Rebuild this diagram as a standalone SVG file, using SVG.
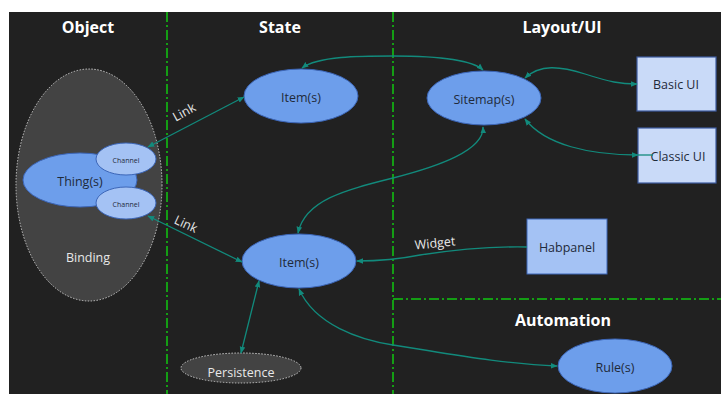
<svg xmlns="http://www.w3.org/2000/svg" width="721" height="394" viewBox="0 0 721 394">
<style>
.hdr{font-family:"Open Sans","Noto Sans","Liberation Sans",sans-serif;font-weight:bold;font-size:16px;fill:#ffffff;text-anchor:middle}
.lbl{font-family:"Open Sans","Noto Sans","Liberation Sans",sans-serif;font-size:12.5px;fill:#1f2a3a;text-anchor:middle;dominant-baseline:central}
.wl{font-family:"Open Sans","Noto Sans","Liberation Sans",sans-serif;font-size:12.5px;fill:#e8e8e8;text-anchor:middle;dominant-baseline:central}
.small{font-family:"Open Sans","Noto Sans","Liberation Sans",sans-serif;font-size:7px;fill:#1f2a3a;text-anchor:middle;dominant-baseline:central}
.div{stroke:#10c810;stroke-width:1.5;stroke-dasharray:10 3 2 3;fill:none}
.blue{fill:#6d9eeb;stroke:#3c66b8;stroke-width:1}
.lblue{fill:#a4c2f4;stroke:#3c66b8;stroke-width:1}
.gray{fill:#434343;stroke:#c8c8c8;stroke-width:1;stroke-dasharray:1.5 1.5}
.box{fill:#c9daf8;stroke:#3d5a9e;stroke-width:1.2}
.c{fill:none;stroke:#128a7c;stroke-width:1.3}
</style>
<defs>
<marker id="ah" viewBox="0 0 10 10" refX="9" refY="5" markerWidth="7" markerHeight="7" orient="auto-start-reverse" markerUnits="userSpaceOnUse">
<path d="M0,1 L10,5 L0,9 Z" fill="#128a7c"/>
</marker>
</defs>
<rect x="0" y="0" width="721" height="394" fill="#ffffff"/>
<rect x="9" y="12" width="712" height="382" fill="#212121"/>
<g id="dividers">
<line class="div" x1="167" y1="12" x2="167" y2="394"/>
<line class="div" x1="393" y1="12" x2="393" y2="394"/>
<line class="div" x1="393" y1="299" x2="721" y2="299"/>
</g>
<g id="headers">
<text class="hdr" x="88" y="33">Object</text>
<text class="hdr" x="280" y="33">State</text>
<text class="hdr" x="562" y="33">Layout/UI</text>
<text class="hdr" x="563" y="326">Automation</text>
</g>
<g id="binding">
<ellipse class="gray" cx="89" cy="185" rx="73" ry="116"/>
<text class="wl" x="88" y="257">Binding</text>
</g>
<g id="things">
<ellipse class="blue" cx="80" cy="180" rx="57" ry="27"/>
<text class="lbl" x="80" y="181">Thing(s)</text>
</g>
<g id="channel1">
<ellipse class="lblue" cx="126" cy="159" rx="30" ry="16"/>
<text class="small" x="126" y="160">Channel</text>
</g>
<g id="channel2">
<ellipse class="lblue" cx="126" cy="203" rx="30" ry="16"/>
<text class="small" x="126" y="204">Channel</text>
</g>
<g id="item1">
<ellipse class="blue" cx="301" cy="96" rx="57" ry="27"/>
<text class="lbl" x="301" y="97">Item(s)</text>
</g>
<g id="item2">
<ellipse class="blue" cx="299" cy="261" rx="57" ry="27"/>
<text class="lbl" x="299" y="262">Item(s)</text>
</g>
<g id="persistence">
<ellipse class="gray" cx="241" cy="368" rx="60" ry="15"/>
<text class="wl" x="241" y="372">Persistence</text>
</g>
<g id="sitemap">
<ellipse class="blue" cx="484" cy="98" rx="57" ry="27"/>
<text class="lbl" x="484" y="99">Sitemap(s)</text>
</g>
<g id="basicui">
<rect class="box" x="637" y="57" width="79" height="54"/>
<text class="lbl" x="676" y="84">Basic UI</text>
</g>
<g id="classicui">
<rect class="box" x="638" y="128" width="78" height="55"/>
<text class="lbl" x="678" y="156">Classic UI</text>
</g>
<g id="habpanel">
<rect class="lblue" x="527" y="219" width="80" height="55"/>
<text class="lbl" x="567" y="247">Habpanel</text>
</g>
<g id="rules">
<ellipse class="blue" cx="615" cy="366" rx="57" ry="27"/>
<text class="lbl" x="615" y="367">Rule(s)</text>
</g>
<g id="connectors">
<path class="c" d="M244,97 L148,147" marker-start="url(#ah)" marker-end="url(#ah)"/>
<text class="wl" x="184" y="112" transform="rotate(-29 184 112)">Link</text>
<path class="c" d="M242,262 L148,216" marker-start="url(#ah)" marker-end="url(#ah)"/>
<text class="wl" x="186" y="224" transform="rotate(25 186 224)">Link</text>
<path class="c" d="M302,68 C318,56 360,56 393,56 C430,56 470,58 483,70" marker-start="url(#ah)" marker-end="url(#ah)"/>
<path class="c" d="M298,233 C305,200 345,190 393,178 C440,166 484,150 483,127" marker-start="url(#ah)" marker-end="url(#ah)"/>
<path class="c" d="M525,78 C540,64 560,66 585,74 C610,82 620,84 637,84" marker-start="url(#ah)" marker-end="url(#ah)"/>
<path class="c" d="M525,119 C545,145 590,155 638,155" marker-start="url(#ah)" marker-end="url(#ah)"/>
<path class="c" d="M638,155 L653,155"/>
<path class="c" d="M527,247 C480,246 440,252 420,255 C400,259 380,261 357,261" marker-end="url(#ah)"/>
<text class="wl" x="435" y="243" transform="rotate(-6 435 243)">Widget</text>
<path class="c" d="M299,289 C315,325 360,340 393,345 C440,352 500,364 557,366" marker-start="url(#ah)" marker-end="url(#ah)"/>
<path class="c" d="M259,281 L241,353" marker-start="url(#ah)" marker-end="url(#ah)"/>
</g>
</svg>
